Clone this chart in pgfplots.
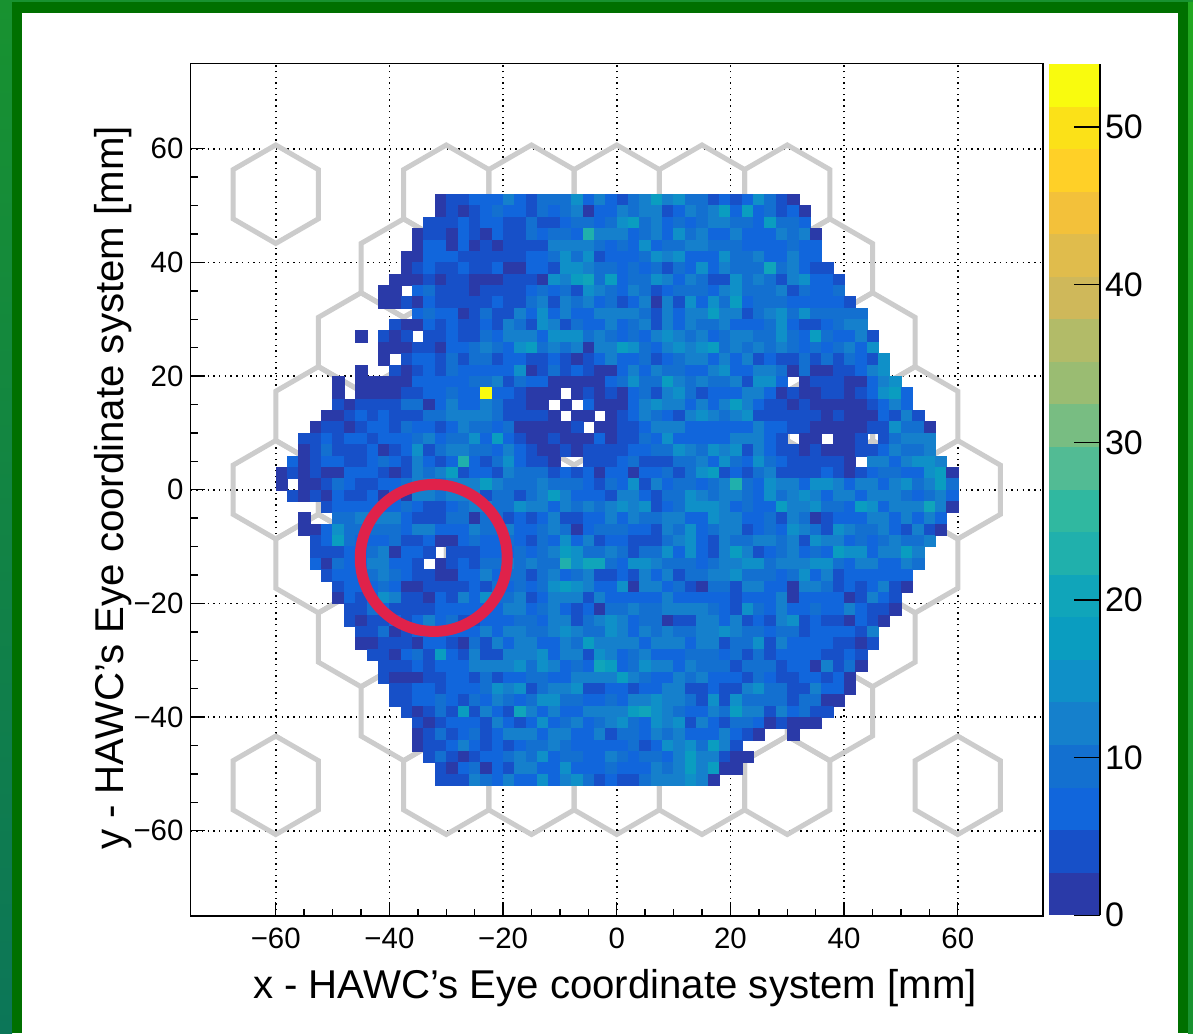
\documentclass[border=0pt]{standalone}
\usepackage{pgfplots}
\usepackage{pgfplotstable}
\usepackage{fontspec}
\setmainfont{Liberation Sans}
\pgfplotsset{compat=1.18}
\definecolor{L0}{RGB}{42,58,168}\definecolor{L1}{RGB}{23,80,200}\definecolor{L2}{RGB}{17,102,220}\definecolor{L3}{RGB}{19,112,208}
\definecolor{L4}{RGB}{21,128,204}\definecolor{L5}{RGB}{15,144,200}\definecolor{L6}{RGB}{10,157,192}\definecolor{L7}{RGB}{16,165,186}
\definecolor{L8}{RGB}{32,176,172}\definecolor{L9}{RGB}{48,184,160}\definecolor{L10}{RGB}{82,187,148}\definecolor{L11}{RGB}{120,189,130}
\definecolor{L12}{RGB}{154,188,114}\definecolor{L13}{RGB}{178,187,104}\definecolor{L14}{RGB}{207,184,90}\definecolor{L15}{RGB}{224,188,76}
\definecolor{L16}{RGB}{243,193,58}\definecolor{L17}{RGB}{255,208,39}\definecolor{L18}{RGB}{251,225,24}\definecolor{L19}{RGB}{249,251,14}
\definecolor{frA}{RGB}{24,146,48}\definecolor{frB}{RGB}{12,118,88}\definecolor{frC}{RGB}{34,168,32}\definecolor{frD}{RGB}{0,112,0}
\definecolor{hexc}{RGB}{204,204,204}\definecolor{ringc}{RGB}{224,34,74}
\pgfplotstableread[header=false]{
51 nan nan nan nan nan  nan nan nan nan nan  nan nan nan nan  2 4 4 7 7 7  12 7 4 9 9 9 15 7 12 7 4 9 12 17 12 15 9 9 4 7  4 7 15 9 4 2  nan nan nan nan nan  nan nan nan nan nan  nan nan nan nan
49 nan nan nan nan nan  nan nan nan nan nan  nan nan nan nan  2 4 2 4 7 9  7 7 4 9 7 9 12 2 7 7 12 9 12 12 4 7 12 9 12 17  7 17 7 9 4 7 2  nan nan nan nan nan  nan nan nan nan nan  nan nan nan
47 nan nan nan nan nan  nan nan nan nan nan  nan nan nan  4 4 4 7 4 7 7  4 4 9 4 4 7 9 9 7 9 15 17 9 12 7 9 7 9 12 12  9 9 7 17 9 9 7  nan nan nan nan nan  nan nan nan nan nan  nan nan nan
45 nan nan nan nan nan  nan nan nan nan nan  nan nan  2 4 4 2 7 4 2 7  4 4 9 7 9 9 7 23 12 12 12 7 9 12 7 15 9 12 7 7  12 7 7 7 12 9 12 2  nan nan nan nan nan  nan nan nan nan nan  nan nan
43 nan nan nan nan nan  nan nan nan nan nan  nan nan  2 7 7 2 7 2 4 2  4 4 4 4 12 12 12 12 9 7 9 7 15 7 9 9 12 12 9 9  9 7 7 7 7 9 7 7  nan nan nan nan nan  nan nan nan nan nan  nan nan
41 nan nan nan nan nan  nan nan nan nan nan  nan  2 2 7 7 7 4 4 4 4  4 4 7 7 9 15 9 15 4 7 7 7 9 15 12 15 7 7 7 15  9 9 12 7 7 12 7 7  nan nan nan nan nan  nan nan nan nan nan  nan nan
39 nan nan nan nan nan  nan nan nan nan nan  nan  2 4 7 4 4 7 4 4 7  2 2 7 7 4 15 15 12 9 9 7 9 7 9 4 9 7 15 7 12  9 9 9 20 9 12 7 4 4  nan nan nan nan nan  nan nan nan nan nan  nan
37 nan nan nan nan nan  nan nan nan nan nan  2 2 2 4 2 4 4 2 2 2  4 4 4 2 15 12 17 20 9 17 7 9 9 15 12 7 12 9 4 4  15 9 12 9 4 12 15 7 7 4  nan nan nan nan nan  nan nan nan nan nan
35 nan nan nan nan nan  nan nan nan nan  2 2 nan 7 9 4 4 4 2 4 4  4 4 7 9 7 9 4 15 12 9 7 12 9 4 7 9 9 9 7 12  15 9 9 9 12 4 9 7 7 9  nan nan nan nan nan  nan nan nan nan nan
33 nan nan nan nan nan  nan nan nan nan  2 2 4 2 7 4 4 4 4 4 7  4 4 9 12 4 12 9 12 7 9 4 7 12 2 12 4 15 7 15 9  17 7 9 9 9 7 7 7 7 7 4  nan nan nan nan nan  nan nan nan nan
31 nan nan nan nan nan  nan nan nan nan nan  nan nan  7 9 7 7 2 4 9 4  4 12 7 15 7 12 7 7 12 12 12 12 9 4 12 7 12 12 17 12  12 4 9 12 15 9 15 9 9 9 9 9  nan nan nan nan nan  nan nan nan
29 nan nan nan nan nan  nan nan nan nan nan  4 2 2 7 4 7 4 4 7 4  12 9 4 15 12 4 9 7 7 12 7 9 12 4 12 7 12 9 9 12  7 7 7 9 15 7 4 4 7 9 12 12  nan nan nan nan nan  nan nan nan
27 nan nan nan nan nan  nan nan 2 nan 4 2 4 nan 4 4 7 4 4 9 7  12 12 12 7 15 15 15 9 12 9 7 9 7 12 15 12 9 12 7 9  12 12 9 9 15 9 7 17 9 7 7 12 4  nan nan nan nan nan  nan nan
25 nan nan nan nan nan  nan nan nan nan  2 2 2 4 4 2 7 7 9 12 9  7 15 17 9 12 9 12 2 12 12 17 15 9 7 12 15 12 15 17 9  12 9 12 9 12 9 7 9 7 9 12 7 15  nan nan nan nan nan  nan nan
23 nan nan nan nan nan  nan nan nan nan  2 nan 4 7 7 4 9 4 9 9 4  7 7 4 4 7 4 2 4 7 12 7 7 9 4 7 9 12 12 7 12  7 12 4 7 4 4 9 4 9 4 9 7 4 15  nan nan nan nan nan  nan
21 nan nan nan nan nan  nan nan  2 nan nan 4 2 4 7 4 9 7 7 7 7  7 15 2 4 9 4 7 4 2 2 7 12 7 12 9 9 7 7 12 15  7 7 12 12 9 2 9 2 2 4 4 7 12 15  nan nan nan nan nan  nan
19 nan nan nan nan nan  2 nan 2 2 2 2 2 7 7 7 7 7 9 9 12  4 9 7 7 2 2 2 2 2 7 9 15 9 9 17 12 9 12 9 9  12 4 15 15 7 nan 2 4 4 4 2 2 7 12 15  nan nan nan nan nan
17 nan nan nan nan nan  2 nan 2 2 2 2 4 4 7 7 9 7 7 53 7  7 4 2 2 2 nan 2 4 2 4 2 7 9 4 12 15 9 4 7 7  7 12 12 7 2 4 2 2 4 4 2 4 7 15 17 7  nan nan nan nan
15 nan nan nan nan nan  4 2 4 4 4 4 9 9 2 7 12 7 7 12 9  4 4 2 2 nan 2 nan 7 2 2 2 7 12 15 12 12 7 12 7 12  17 12 7 4 4 2 4 2 2 2 2 2 4 7 12 7  nan nan nan nan
13 nan nan nan nan  2 2 4 7 4 7 4 4 4 9 9 12 12 12 12 9  4 4 4 4 2 nan 2 2 nan 2 4 7 12 9 7 4 12 15 12 9  12 15 4 4 4 4 4 4 2 4 2 2 2 7 4 12 4  nan nan nan
11 nan nan nan  2 4 4 2 4 7 7 4 9 7 7 4 7 12 9 9 7  9 2 2 2 2 2 4 nan 2 2 4 4 7 12 12 12 7 7 7 7  7 7 12 7 7 4 4 2 2 2 2 2 4 4 15 9 9 2  nan nan
9 nan nan  4 4 7 4 7 7 4 7 7 7 9 12 7 9 9 15 7 17  7 4 2 2 4 2 2 2 7 2 4 4 9 7 15 7 7 7 7 7  12 12 12 7 4 nan 2 2 nan 2 2 4 nan 4 9 12 12 12  nan nan
7 nan nan  2 4 9 4 4 4 7 2 4 7 15 4 9 12 12 9 9 7  12 7 4 2 2 4 2 4 4 4 4 7 7 9 9 15 12 9 15 12  15 4 12 7 4 4 2 4 2 2 2 4 4 7 12 9 9 12  nan nan
5 nan  7 2 4 7 7 4 4 7 9 7 4 12 7 4 7 23 7 4 9  15 7 4 4 2 nan nan 4 4 4 7 9 4 4 4 9 9 12 7 15  9 7 15 9 7 4 4 4 4 4 2 nan 12 12 7 12 15 15 12  nan
3 2 4 2 4 2 2 7 7 7 4 2 4 12 9 12 17 4 7 7 4  12 9 9 9 4 7 4 7 2 7 7 2 7 7 9 4 9 15 17 4  7 4 9 12 4 4 4 4 7 4 2 4 7 9 9 7 7 15 17 2
1 2 nan 2 2 4 9 7 4 4 7 7 9 12 12 9 12 12 12 17 12  9 9 9 12 9 9 9 7 4 9 7 15 4 12 7 9 9 7 9 12  23 9 7 15 12 12 7 15 15 12 7 12 12 7 12 15 9 12 17 9
-1 nan 4 2 4 2 7 4 4 7 2 7 2 12 12 9 12 12 12 4 9  9 4 9 12 17 12 7 7 7 4 12 12 7 4 9 9 15 12 9 12  12 9 7 15 9 12 15 12 7 12 12 7 12 12 12 9 7 9 12 7
-3 nan nan nan nan  4 7 7 7 7 7 7 9 7 4 4 7 9 12 12 9  9 15 12 12 7 12 9 12 9 12 15 12 15 4 7 9 15 15 15 12  7 9 7 7 17 12 12 15 9 9 7 17 15 7 12 12 12 20 12 2
-5 nan nan  2 nan nan 9 9 12 12 12 12 7 4 4 4 9 9 2 9 9  4 7 4 7 12 4 4 7 7 12 7 12 9 9 12 12 7 7 15 12  12 7 7 9 4 12 9 2 4 7 7 7 12 12 7 12 7 12 7  nan
-7 nan nan  2 2 7 15 9 9 9 9 9 7 12 12 7 7 7 12 9 9  12 7 7 9 12 9 2 7 9 9 9 7 7 4 12 9 15 7 9 12  12 4 7 9 7 15 12 9 4 15 12 9 9 12 7 4 12 4 2  nan
-9 nan nan nan  4 7 17 9 7 7 7 9 4 4 7 2 2 7 9 7 7  9 7 4 9 7 15 7 12 4 7 7 4 4 4 9 12 15 7 4 12  9 9 12 12 9 12 4 15 12 12 7 9 7 9 12 9 9 12  nan nan
-11 nan nan nan  4 4 4 7 7 9 12 2 7 7 4 nan 4 4 4 7 7  7 9 7 9 12 17 15 9 9 12 9 4 9 9 15 7 15 7 4 12  17 12 4 7 9 12 7 9 7 17 15 15 7 12 12 17 12  nan nan nan
-13 nan nan nan  7 2 9 7 7 12 12 7 7 4 nan 2 4 7 4 9 9  12 9 12 9 9 23 15 20 20 9 7 15 15 12 9 9 9 7 9 12  12 15 15 9 12 12 12 15 15 9 7 12 12 7 7 12 9  nan nan nan
-15 nan nan nan nan  4 7 7 7 9 12 9 7 4 4 2 2 7 7 12 7  9 9 4 9 12 7 9 12 4 4 7 4 12 7 12 4 9 9 12 12  15 9 9 9 7 9 15 7 12 4 7 7 7 7 7 7  nan nan nan nan
-17 nan nan nan nan nan  4 7 7 7 9 7 2 2 4 4 4 4 7 4 9  7 9 7 9 15 17 15 12 7 7 15 2 12 12 7 9 4 2 9 9  4 12 12 7 7 2 12 12 9 4 7 4 7 12 4 2  nan nan nan nan
-19 nan nan nan nan nan  2 7 4 7 15 12 4 4 2 7 4 12 7 15 9  9 12 4 7 12 12 12 4 12 7 7 7 7 7 12 7 7 7 7 7  4 7 7 7 12 2 7 7 7 7 2 4 12 7 4  nan nan nan nan nan
-21 nan nan nan nan nan  nan  4 4 9 7 4 4 4 4 7 7 7 7 7 7  12 12 7 9 12 7 4 7 2 9 9 12 9 9 12 12 12 12 9 7  4 15 9 7 12 7 7 9 7 7 12 7 4 4 2  nan nan nan nan nan
-23 nan nan nan nan nan  nan  4 2 4 4 7 4 7 12 7 9 4 4 7 7  7 9 9 7 12 12 4 9 12 15 12 7 9 9 2 4 4 12 12 7  12 4 7 4 12 15 4 7 4 4 2 7 4 2  nan nan nan nan nan  nan
-25 nan nan nan nan nan  nan nan  4 4 9 2 4 7 7 7 7 7 7 12 7  12 12 9 9 12 15 12 9 9 15 12 7 12 9 12 9 9 12 12 15  12 9 9 7 9 9 4 7 7 7 7 4 12  nan nan nan nan nan  nan nan
-27 nan nan nan nan nan  nan nan  2 2 4 4 4 2 7 7 4 2 9 4 12  7 12 12 7 7 12 9 17 12 12 12 12 7 12 12 12 7 12 12 4  9 9 15 4 12 7 7 7 7 4 4 2 4  nan nan nan nan nan  nan nan
-29 nan nan nan nan nan  nan nan nan  4 4 2 7 9 4 17 7 4 12 4 4  12 12 12 15 7 12 12 4 15 12 7 9 12 7 7 7 9 9 9 7  9 4 9 4 7 7 7 7 4 4 7 4  nan nan nan nan nan  nan nan nan
-31 nan nan nan nan nan  nan nan nan nan  4 4 4 7 4 7 7 7 12 12 12  12 15 9 15 12 7 9 7 20 17 7 9 15 12 12 7 12 9 9 9  4 9 9 9 4 7 7 2 12 4 9 2  nan nan nan nan nan  nan nan nan
-33 nan nan nan nan nan  nan nan nan nan  4 2 2 2 4 4 7 7 4 9 4  7 7 9 9 7 7 12 12 12 12 17 12 9 7 7 12 9 12 7 7  7 4 9 7 4 4 7 7 4 7 2  nan nan nan nan nan  nan nan nan nan
-35 nan nan nan nan nan  nan nan nan nan nan  4 4 7 7 4 7 7 7 9 15  12 15 4 9 12 12 15 4 4 7 7 4 7 7 12 12 4 4 7 4  4 12 15 9 9 4 4 12 7 7 2  nan nan nan nan nan  nan nan nan nan
-37 nan nan nan nan nan  nan nan nan nan nan  4 4 7 7 9 7 4 9 7 12  9 7 9 15 15 9 9 7 7 9 7 12 12 15 12 12 9 4 15 4  15 9 9 9 9 4 9 9 2 2  nan nan nan nan nan  nan nan nan nan nan
-39 nan nan nan nan nan  nan nan nan nan nan  nan  4 2 4 9 4 17 4 12 7  4 20 12 7 12 7 7 12 12 12 12 17 20 15 12 9 7 7 12 9  17 12 12 4 12 7 9 4 4  nan nan nan nan nan  nan nan nan nan nan  nan
-41 nan nan nan nan nan  nan nan nan nan nan  nan nan  4 2 4 7 7 7 4 12  7 4 7 15 7 9 12 7 9 12 15 9 7 15 12 15 4 12 7 4  9 9 7 2 4 2 2 2  nan nan nan nan nan  nan nan nan nan nan  nan nan
-43 nan nan nan nan nan  nan nan nan nan nan  nan nan  2 4 9 4 7 9 4 7  12 12 12 7 12 12 7 7 12 4 9 9 7 12 9 12 7 7 7 12  7 4 2 nan nan 2  nan nan nan nan nan  nan nan nan nan nan  nan nan nan nan
-45 nan nan nan nan nan  nan nan nan nan nan  nan nan  2 4 4 7 12 7 4 7  4 7 9 9 12 9 7 7 7 7 7 9 4 7 15 12 15 9 17 12  4  nan nan nan nan nan  nan nan nan nan nan  nan nan nan nan nan  nan nan nan nan
-47 nan nan nan nan nan  nan nan nan nan nan  nan nan nan  4 9 4 2 4 7 7  9 12 9 15 7 9 9 7 7 12 9 7 9 9 7 12 17 12 12 4  2 2  nan nan nan nan nan  nan nan nan nan nan  nan nan nan nan nan  nan nan nan
-49 nan nan nan nan nan  nan nan nan nan nan  nan nan nan nan  4 2 7 9 2 7  4 12 12 7 7 15 7 7 7 9 7 7 7 12 9 12 17 12 17 2  2  nan nan nan nan nan  nan nan nan nan nan  nan nan nan nan nan  nan nan nan nan
-51 nan nan nan nan nan  nan nan nan nan nan  nan nan nan nan  4 4 4 12 9 7  12 7 7 15 7 12 15 9 4 7 4 4 9 12 12 12 15 12 2 nan  nan nan nan nan nan  nan nan nan nan nan  nan nan nan nan nan  nan nan nan nan nan
}\mapdata
\pgfplotstableread{
x y
-7.5 4.33
0 8.66
7.5 4.33
7.5 -4.33
0 -8.66
-7.5 -4.33
-7.5 4.33
0 8.66
}\hexdata
\pgfplotstableread{
x y
0 0
1 0
1 1
0 1
}\banddata
\newcommand\hexrow[2]{\pgfplotsinvokeforeach{#2}{\addplot[draw=hexc,line width=2.5pt,no marks,forget plot] table[x expr={\thisrow{x}+##1},y expr={\thisrow{y}+#1}]{\hexdata};}}
\pgfplotsset{cellclasses/.style={scatter/classes={
  2={mark=square*,draw=L0,fill=L0},
  4={mark=square*,draw=L1,fill=L1},
  7={mark=square*,draw=L2,fill=L2},
  9={mark=square*,draw=L3,fill=L3},
  12={mark=square*,draw=L4,fill=L4},
  15={mark=square*,draw=L5,fill=L5},
  17={mark=square*,draw=L6,fill=L6},
  20={mark=square*,draw=L7,fill=L7},
  23={mark=square*,draw=L8,fill=L8},
  53={mark=square*,draw=L19,fill=L19},
  nan={mark=none}}}}
\begin{document}
\begin{tikzpicture}
\useasboundingbox (0,0) rectangle (596.5pt,516.5pt);
\fill[white] (0,0) rectangle (596.5pt,516.5pt);
% slide frame
\fill[top color=frA,bottom color=frB] (0,0) rectangle (6pt,516.5pt);
\fill[top color=frC,bottom color=frA] (594pt,0) rectangle (596.5pt,516.5pt);
\fill[frA] (0,515.5pt) rectangle (596.5pt,516.5pt);
\fill[frD] (6pt,510pt) rectangle (594pt,515.5pt);
\fill[frD] (6pt,0) rectangle (11pt,515.5pt);
\fill[frD] (589pt,0) rectangle (594pt,515.5pt);
\begin{axis}[
  at={(95.25pt,58.5pt)},anchor=south west,
  scale only axis,width=426.25pt,height=426.25pt,
  xmin=-75,xmax=75,ymin=-75,ymax=75,
  tick pos=left,tick align=inside,
  xtick={-60,-40,-20,0,20,40,60},ytick={-60,-40,-20,0,20,40,60},
  xticklabels={−60,−40,−20,0,20,40,60},yticklabels={−60,−40,−20,0,20,40,60},
  minor x tick num=3,minor y tick num=3,
  major tick length=7pt,minor tick length=3.5pt,
  tick style={black,line width=0.7pt},
  axis line style={black,line width=0.7pt},
  xmajorgrids,ymajorgrids,
  grid style={black,line width=0.8pt,dash pattern=on 0.7pt off 2.15pt},
  tick label style={font=\fontsize{14.7pt}{16pt}\selectfont},
  xticklabel style={yshift=-2.5pt},
  clip=true
]
\hexrow{52}{-60,-30,-15,0,15,30}
\hexrow{39}{-37.5,-22.5,-7.5,7.5,22.5,37.5}
\hexrow{26}{-45,-30,-15,0,15,30,45}
\hexrow{13}{-52.5,-37.5,-22.5,-7.5,7.5,22.5,37.5,52.5}
\hexrow{0}{-60,-45,-30,-15,0,15,30,45,60}
\hexrow{-13}{-52.5,-37.5,-22.5,-7.5,7.5,22.5,37.5,52.5}
\hexrow{-26}{-45,-30,-15,0,15,30,45}
\hexrow{-39}{-37.5,-22.5,-7.5,7.5,22.5,37.5}
\hexrow{-52}{-60,-30,-15,0,15,30,60}
\pgfplotsinvokeforeach{1,...,60}{
\addplot[scatter,only marks,mark size=2.84pt,line width=0.12pt,point meta=explicit symbolic,forget plot,cellclasses]
  table[x expr={-61+2*#1},y index=0,meta index=#1]{\mapdata};
}
\end{axis}
\begin{axis}[
  at={(95.25pt,58.5pt)},anchor=south west,
  scale only axis,width=426.25pt,height=426.25pt,
  xmin=-75,xmax=75,ymin=-75,ymax=75,
  hide axis,clip=false
]
\draw[line width=5.5pt,draw=ringc] (axis cs:-32.2,-12) circle[radius=36.75pt];
\draw[line width=1.2pt,black] (axis cs:-75,-75) -- (axis cs:75,-75);
\end{axis}
\begin{axis}[
  at={(524.5pt,58.9pt)},anchor=south west,
  scale only axis,width=25.5pt,height=425.6pt,
  xmin=0,xmax=1,ymin=0,ymax=54,
  axis x line=none,axis y line*=right,
  axis on top,
  tick align=inside,
  ytick={0,10,20,30,40,50},yticklabels={0,10,20,30,40,50},
  major tick length=13pt,
  tick style={black,line width=0.6pt},
  axis line style={black,line width=0.6pt},
  tick label style={font=\fontsize{17pt}{18pt}\selectfont},
  yticklabel style={xshift=-1pt},
  clip=true
]
\pgfplotsinvokeforeach{0,...,19}{
\addplot[draw=none,fill=L#1,forget plot] table[x=x,y expr={2.7*(#1+\thisrow{y})}]{\banddata} -- cycle;
}
\end{axis}
\node[font=\fontsize{20.1pt}{22pt}\selectfont,anchor=center] at (307.5pt,22.5pt) {x - HAWC\symbol{39}s Eye coordinate system [mm]};
\node[font=\fontsize{20.1pt}{22pt}\selectfont,anchor=center,rotate=90] at (56.5pt,272.5pt) {y - HAWC\symbol{39}s Eye coordinate system [mm]};
\end{tikzpicture}
\end{document}
